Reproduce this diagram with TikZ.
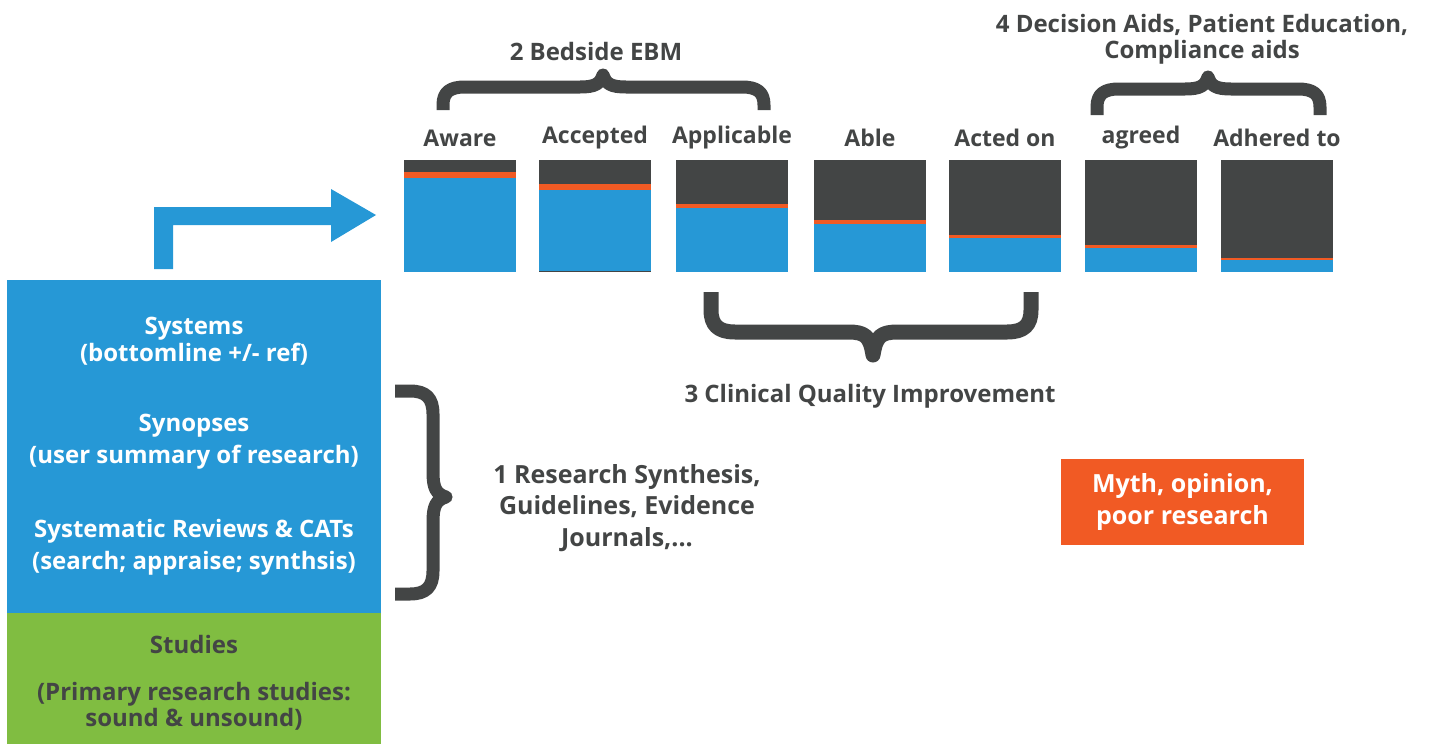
\documentclass[tikz,border=0pt]{standalone}
\usepackage{fontspec}
\setmainfont{Open Sans}
\definecolor{eblue}{RGB}{38,152,214}
\definecolor{edark}{RGB}{67,69,69}
\definecolor{eorange}{RGB}{241,90,36}
\definecolor{egreen}{RGB}{128,189,65}
\begin{document}
\begin{tikzpicture}[x=1pt,y=-1pt,
  lbl/.style={text=edark,font=\fontsize{23}{26}\selectfont\bfseries,anchor=center,inner sep=0pt},
  hd/.style={text=edark,font=\fontsize{24}{26}\selectfont\bfseries,align=center,inner sep=0pt},
  wt/.style={text=white,font=\fontsize{24}{32}\selectfont\bfseries,align=center,inner sep=0pt},
  brace/.style={draw=edark,line width=13pt,line join=round}]
\useasboundingbox (0,0) rectangle (1430,744);
% left stack
\fill[eblue] (7,280) rectangle (381,613);
\fill[egreen] (7,613) rectangle (381,744);
\node[wt,font=\fontsize{24}{27}\selectfont\bfseries] (sys) at (194,341) {Systems\\(bottomline +/- ref)};
\node[wt] (syn) at (194,442) {Synopses\\(user summary of research)};
\node[wt] (sr) at (194,547) {Systematic Reviews \& CATs\\(search; appraise; synthsis)};
\node[wt,text=edark] (st) at (194,644) {Studies};
\node[wt,text=edark,font=\fontsize{24}{26}\selectfont\bfseries] (pr) at (194,706) {(Primary research studies:\\sound \& unsound)};
% bent arrow
\fill[eblue] (154,269) -- (154,207) -- (331,207) -- (331,189) -- (376,215) -- (331,242) -- (331,225) -- (173,225) -- (173,269) -- cycle;
% bars
\foreach \x/\ot/\ob/\bb/\name/\t in {404/172/178/272/aw/Aware, 539/184/189.5/271/ac/Accepted, 676/204/208/272/ap/Applicable, 814/220/223.5/272/ab/Able, 949/235/237.5/272/ao/Acted on, 1085/245/247.5/272/ag/agreed, 1221/257.5/259.5/272/ad/Adhered to}{
  \fill[edark] (\x,160) rectangle ++(112,112);
  \fill[eorange] (\x,\ot) rectangle (\x+112,\ob);
  \fill[eblue] (\x,\ob) rectangle (\x+112,\bb);
  \node[lbl] (\name) at (\x+56,138) {\t};
}
% brace 2 (top)
\draw[brace] (443,110) -- (443,105) .. controls (443,92) and (450,87) .. (465,87) -- (580,87) .. controls (595,87) and (600,84) .. (603,75)
  .. controls (606,84) and (611,87) .. (626,87) -- (742,87) .. controls (757,87) and (764,92) .. (764,105) -- (764,110);
\node[hd] (bed) at (596,51) {2 Bedside EBM};
% brace 4
\draw[brace] (1097,115) -- (1097,107) .. controls (1097,94) and (1104,89) .. (1119,89) -- (1185,89) .. controls (1200,89) and (1205,86) .. (1208,77)
  .. controls (1211,86) and (1216,89) .. (1231,89) -- (1298,89) .. controls (1313,89) and (1320,94) .. (1320,107) -- (1320,115);
\node[hd] (dec) at (1202,39) {4 Decision Aids, Patient Education,\\Compliance aids};
% brace 3
\draw[brace,line width=15pt] (711,292) -- (711,310) .. controls (711,325) and (718,332) .. (735,332) -- (848,332) .. controls (865,332) and (870,336) .. (873,355)
  .. controls (876,336) and (881,332) .. (898,332) -- (1007,332) .. controls (1024,332) and (1031,325) .. (1031,310) -- (1031,292);
\node[hd] (cqi) at (870,396) {3 Clinical Quality Improvement};
% brace 1
\draw[brace] (395,391) -- (410,391) .. controls (426,391) and (433,398) .. (433,414) -- (433,472) .. controls (433,488) and (436,494) .. (446,497)
  .. controls (436,500) and (433,506) .. (433,522) -- (433,571) .. controls (433,587) and (426,594) .. (410,594) -- (395,594);
\node[hd,font=\fontsize{25}{31.5}\selectfont\bfseries] (rs) at (627,508) {1 Research Synthesis,\\Guidelines, Evidence\\Journals,...};
% myth box
\node[fill=eorange,text=white,font=\fontsize{25}{32}\selectfont\bfseries,align=center,minimum width=243pt,minimum height=86pt,inner sep=0pt] (myth) at (1182.5,502) {Myth, opinion,\\poor research};
\end{tikzpicture}
\end{document}
